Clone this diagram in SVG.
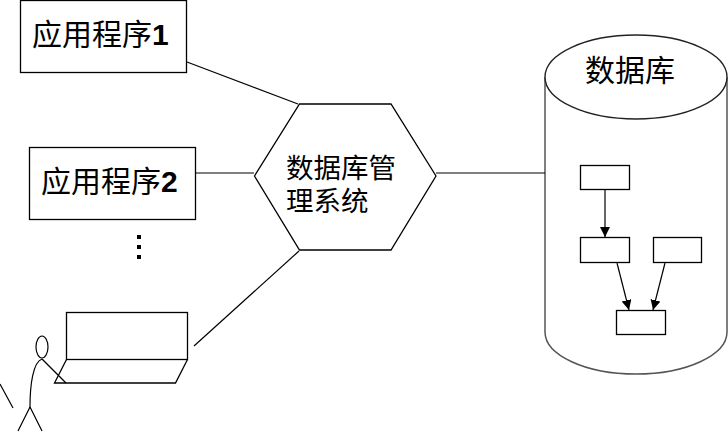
<svg xmlns="http://www.w3.org/2000/svg" width="728" height="432" viewBox="0 0 728 432">
<style>
text{font-family:"Noto Sans CJK SC","Liberation Sans",sans-serif;fill:#000}
.b{fill:#fff;stroke:#000;stroke-width:1.3}
.l{fill:none;stroke:#000;stroke-width:1.2}
.n{font-weight:700;font-family:"Liberation Sans",sans-serif}
</style>
<defs><marker id="a" markerUnits="userSpaceOnUse" markerWidth="11" markerHeight="11" refX="10" refY="5" orient="auto"><path d="M0 0L10 5L0 10z"/></marker></defs>
<rect width="728" height="432" fill="#fff"/>
<g id="app1"><rect class="b" x="20.500" y="0.500" width="166" height="72"/><text x="32" y="44.500" font-size="30">应用程序<tspan class="n">1</tspan></text></g>
<g id="app2"><rect class="b" x="29.500" y="147.500" width="166" height="72"/><text x="41" y="191.500" font-size="30">应用程序<tspan class="n">2</tspan></text></g>
<g id="dots"><rect x="137" y="235" width="4" height="4"/><rect x="137" y="245" width="4" height="4"/><rect x="137" y="255" width="4" height="4"/></g>
<g id="dbms"><path class="b" d="M254.500 176L299.500 104H391L436 176L391 250H299.500z"/><text font-size="27.500"><tspan x="286" y="178">数据库管</tspan><tspan x="286" y="211">理系统</tspan></text></g>
<g id="terminal">
<path class="b" d="M66.500 359.500L54.500 383H175.500L187.500 359.500"/>
<rect class="b" style="fill:none" x="66.500" y="312.500" width="121" height="47"/>
</g>
<g id="user">
<ellipse class="l" cx="42" cy="347" rx="6" ry="11"/>
<path class="l" d="M42 359L66 383"/>
<path class="l" d="M42 359C33 362 30 385 30 407"/>
<path class="l" d="M30 407L18 431M30 407L42 431M0 384L13 408"/>
</g>
<g id="database">
<path d="M545 77V332A91 42 0 0 0 727 332V77" fill="#fff" stroke="#555" stroke-width="1.500"/>
<ellipse cx="636" cy="77" rx="91" ry="42" fill="#fff" stroke="#222" stroke-width="1.400"/>
<text x="585" y="81" font-size="30">数据库</text>
</g>
<g id="t1"><rect class="b" x="580.500" y="165.500" width="49" height="24"/></g>
<g id="t2"><rect class="b" x="580.500" y="237.500" width="49" height="25"/></g>
<g id="t3"><rect class="b" x="653.500" y="237.500" width="48" height="25"/></g>
<g id="t4"><rect class="b" x="616.500" y="310.500" width="49" height="24"/></g>
<g id="connectors">
<path class="l" d="M187 62L298 104"/>
<path class="l" d="M196 173H254"/>
<path class="l" d="M194 346L299 251"/>
<path class="l" d="M436 173H545"/>
<path class="l" d="M605 190V237" marker-end="url(#a)"/>
<path class="l" d="M617 263L629 310" marker-end="url(#a)"/>
<path class="l" d="M665 263L653 310" marker-end="url(#a)"/>
</g>
</svg>
